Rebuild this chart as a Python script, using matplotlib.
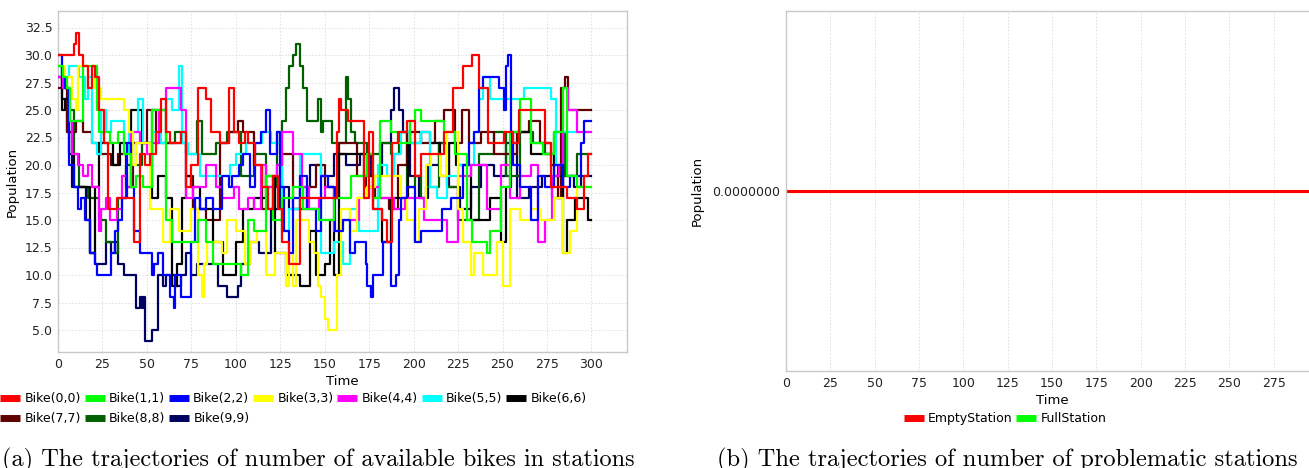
import matplotlib
matplotlib.use('Agg')
import matplotlib.pyplot as plt
from matplotlib.lines import Line2D

# step trajectories: (time, bikes) at each jump
bike_00 = [(0, 30), (9, 31), (10, 32), (12, 30), (14, 29), (17, 27), (19, 29), (21, 28), (23, 25), (26, 22),
           (28, 16), (31, 16), (33, 17), (40, 17), (43, 13), (46, 21), (49, 20), (52, 21), (55, 23), (58, 26),
           (61, 23), (63, 22), (69, 23), (72, 18), (75, 20), (79, 27), (83, 26), (86, 23), (91, 22), (96, 27),
           (99, 23), (102, 22), (105, 23), (107, 22), (111, 20), (115, 18), (118, 16), (121, 19), (124, 16),
           (126, 13), (130, 11), (136, 17), (144, 17), (150, 17), (154, 17), (157, 23), (158, 26), (159, 25),
           (163, 24), (172, 17), (175, 23), (177, 16), (182, 15), (185, 13), (188, 22), (191, 23), (196, 24),
           (201, 19), (204, 21), (212, 21), (217, 23), (222, 27), (228, 29), (233, 30), (237, 27), (242, 22),
           (247, 22), (251, 23), (256, 22), (259, 25), (274, 22), (277, 18), (286, 17), (292, 16), (296, 19),
           (298, 21)]
bike_11 = [(0, 29), (3, 28), (5, 27), (7, 24), (14, 29), (22, 25), (23, 23), (29, 22), (34, 23), (37, 21),
           (41, 18), (44, 19), (48, 18), (53, 25), (61, 15), (64, 13), (79, 15), (83, 13), (87, 11), (103, 10),
           (107, 15), (110, 14), (117, 19), (121, 15), (126, 17), (132, 18), (138, 16), (144, 16), (147, 15),
           (155, 17), (165, 19), (174, 21), (177, 17), (181, 24), (187, 23), (191, 22), (198, 24), (201, 25),
           (204, 24), (217, 23), (223, 21), (230, 15), (233, 13), (241, 12), (243, 14), (249, 18), (254, 23),
           (260, 26), (266, 22), (273, 21), (279, 23), (284, 27), (286, 19), (292, 18)]
bike_22 = [(0, 30), (2, 28), (4, 27), (6, 20), (9, 18), (11, 16), (13, 17), (15, 15), (18, 12), (21, 11),
           (22, 10), (30, 12), (32, 14), (34, 15), (36, 17), (39, 22), (41, 18), (43, 14), (46, 12), (53, 10),
           (54, 11), (56, 12), (59, 10), (63, 8), (65, 7), (66, 10), (69, 8), (75, 13), (77, 17), (80, 16),
           (83, 17), (87, 16), (92, 19), (96, 18), (98, 19), (102, 20), (104, 21), (108, 18), (111, 22),
           (114, 23), (117, 25), (119, 21), (123, 23), (125, 18), (127, 14), (130, 12), (132, 17), (136, 19),
           (140, 16), (145, 14), (148, 19), (152, 18), (156, 14), (160, 15), (164, 12), (167, 13), (173, 11),
           (174, 9), (176, 8), (177, 10), (183, 13), (187, 9), (190, 10), (192, 15), (193, 17), (196, 18),
           (201, 13), (204, 14), (216, 16), (221, 17), (228, 20), (231, 22), (234, 23), (237, 27), (239, 28),
           (248, 27), (251, 25), (252, 29), (253, 30), (255, 23), (256, 20), (260, 18), (266, 15), (270, 19),
           (274, 18), (279, 20), (284, 18), (288, 19), (294, 22), (296, 24)]
bike_33 = [(0, 29), (4, 28), (8, 26), (10, 25), (11, 29), (21, 27), (24, 26), (37, 25), (40, 23), (42, 20),
           (44, 22), (52, 16), (59, 13), (63, 16), (68, 14), (75, 16), (79, 10), (81, 8), (82, 11), (84, 13),
           (92, 12), (95, 15), (100, 14), (105, 11), (108, 13), (112, 14), (117, 10), (122, 12), (128, 9),
           (130, 12), (132, 9), (134, 15), (141, 13), (144, 12), (146, 9), (148, 8), (150, 6), (152, 5),
           (157, 10), (159, 16), (164, 14), (168, 17), (174, 18), (178, 19), (193, 17), (196, 15), (200, 13),
           (203, 16), (207, 20), (210, 21), (215, 19), (219, 23), (225, 16), (228, 13), (232, 10), (234, 12),
           (239, 10), (247, 13), (250, 9), (254, 16), (260, 15), (266, 16), (271, 15), (279, 17), (284, 12),
           (288, 14), (292, 18)]
bike_44 = [(0, 28), (3, 27), (6, 24), (8, 21), (11, 20), (14, 19), (17, 20), (19, 18), (23, 14), (24, 16),
           (27, 17), (29, 15), (33, 16), (36, 19), (39, 18), (41, 23), (46, 22), (50, 21), (53, 22), (57, 25),
           (61, 27), (69, 25), (72, 17), (76, 18), (83, 20), (89, 18), (92, 17), (99, 18), (102, 16), (107, 17),
           (110, 16), (114, 20), (117, 18), (121, 19), (123, 20), (126, 23), (132, 21), (137, 18), (141, 16),
           (147, 17), (150, 18), (155, 14), (159, 15), (169, 17), (175, 18), (181, 17), (189, 16), (195, 17),
           (206, 15), (219, 13), (225, 19), (232, 20), (241, 16), (249, 20), (254, 17), (260, 19), (266, 20),
           (270, 13), (274, 15), (278, 19), (282, 20), (284, 27), (287, 25), (292, 23)]
bike_55 = [(0, 29), (2, 28), (6, 29), (12, 28), (15, 26), (17, 28), (19, 22), (22, 21), (24, 25), (27, 23),
           (30, 24), (37, 21), (40, 23), (45, 26), (48, 22), (53, 23), (58, 22), (61, 26), (64, 25), (68, 29),
           (70, 22), (73, 21), (80, 19), (91, 19), (97, 20), (100, 21), (106, 22), (115, 23), (120, 22),
           (126, 14), (130, 16), (136, 21), (145, 21), (148, 12), (155, 13), (160, 11), (164, 16), (169, 14),
           (180, 20), (185, 19), (189, 21), (193, 23), (198, 22), (204, 23), (209, 18), (213, 17), (219, 19),
           (225, 20), (234, 23), (237, 26), (239, 28), (243, 26), (262, 27), (277, 26), (280, 20), (284, 23)]
bike_66 = [(0, 28), (2, 25), (4, 26), (6, 21), (9, 18), (18, 12), (21, 18), (23, 22), (31, 20), (35, 22),
           (41, 25), (47, 22), (53, 17), (56, 19), (61, 17), (64, 9), (67, 11), (70, 17), (72, 19), (75, 18),
           (80, 16), (87, 13), (93, 10), (100, 13), (104, 16), (110, 17), (117, 19), (122, 12), (128, 10),
           (136, 9), (142, 14), (145, 10), (150, 11), (153, 15), (155, 10), (158, 21), (172, 19), (177, 16),
           (182, 13), (187, 17), (197, 22), (204, 23), (209, 22), (215, 19), (220, 22), (224, 20), (232, 15),
           (243, 17), (249, 13), (252, 18), (255, 23), (266, 21), (279, 19), (284, 12), (286, 15), (291, 17),
           (298, 15)]
bike_77 = [(0, 27), (5, 23), (10, 24), (14, 23), (19, 22), (23, 21), (30, 20), (34, 21), (38, 18), (42, 22),
           (50, 25), (55, 22), (63, 22), (72, 19), (76, 16), (83, 15), (91, 22), (96, 23), (101, 24), (104, 23),
           (110, 20), (115, 16), (121, 18), (126, 21), (132, 16), (140, 18), (145, 20), (150, 18), (155, 17),
           (158, 22), (168, 19), (173, 18), (178, 17), (186, 16), (191, 20), (196, 23), (204, 22), (212, 24),
           (217, 25), (223, 22), (227, 25), (231, 22), (238, 23), (245, 21), (258, 23), (265, 24), (271, 22),
           (277, 20), (281, 17), (283, 27), (285, 28), (287, 25)]
bike_88 = [(0, 29), (2, 27), (6, 25), (9, 21), (12, 18), (17, 17), (23, 15), (27, 13), (32, 12), (34, 17),
           (38, 20), (47, 22), (53, 25), (61, 22), (66, 23), (72, 21), (78, 24), (81, 21), (89, 22), (95, 23),
           (103, 19), (110, 21), (117, 18), (123, 23), (126, 24), (128, 27), (130, 29), (132, 30), (134, 31),
           (136, 29), (138, 27), (140, 24), (146, 26), (148, 23), (149, 24), (154, 22), (162, 28), (163, 26),
           (165, 23), (167, 22), (174, 21), (181, 22), (187, 21), (192, 23), (196, 18), (201, 19), (204, 17),
           (207, 18), (214, 22), (219, 18), (225, 15), (237, 21), (245, 23), (252, 19), (260, 23), (267, 22),
           (274, 21), (279, 23), (285, 19), (292, 21)]
bike_99 = [(0, 28), (2, 26), (5, 23), (8, 18), (16, 15), (18, 12), (21, 11), (27, 13), (30, 12), (32, 13),
           (34, 11), (37, 10), (44, 7), (46, 8), (47, 7), (48, 8), (49, 4), (53, 5), (56, 10), (59, 9), (61, 10),
           (66, 9), (69, 10), (72, 12), (75, 10), (78, 11), (90, 9), (95, 8), (101, 9), (103, 11), (108, 13),
           (113, 12), (120, 16), (125, 18), (130, 16), (136, 18), (142, 20), (148, 19), (155, 21), (162, 20),
           (170, 21), (176, 19), (182, 22), (187, 25), (189, 27), (192, 25), (194, 23), (198, 19), (203, 17),
           (208, 20), (214, 22), (220, 18), (226, 16), (232, 18), (238, 20), (245, 19), (252, 22), (258, 17),
           (265, 18), (272, 19), (278, 17), (284, 19), (290, 18), (294, 19)]

bike_series = [bike_00, bike_11, bike_22, bike_33, bike_44, bike_55, bike_66, bike_77, bike_88, bike_99]
bike_labels = ["Bike(0,0)", "Bike(1,1)", "Bike(2,2)", "Bike(3,3)", "Bike(4,4)",
               "Bike(5,5)", "Bike(6,6)", "Bike(7,7)", "Bike(8,8)", "Bike(9,9)"]
bike_colors = ["#ff0000", "#00ff00", "#0000ff", "#ffff00", "#ff00ff",
               "#00ffff", "#000000", "#600000", "#006000", "#000060"]

# problematic stations: both stay at zero
station_time = [0, 300]
empty_station = [0, 0]
full_station = [0, 0]
station_labels = ["EmptyStation", "FullStation"]
station_colors = ["#ff0000", "#00ff00"]

t_end = 300

W, H = 1309, 468
fig = plt.figure(figsize=(W / 100, H / 100), dpi=100)


def box(l, t, r, b):
    return [l / W, 1 - b / H, (r - l) / W, (b - t) / H]


def style(ax):
    for s in ax.spines.values():
        s.set_color("#c8c8c8")
        s.set_linewidth(1.0)
    ax.grid(True, color="#dddddd", linestyle=(0, (2, 2)), linewidth=0.6)
    ax.set_axisbelow(True)
    ax.tick_params(length=0, labelsize=9, pad=4, colors="#222222")


# (a) bikes
ax1 = fig.add_axes(box(58, 11, 627, 352))
for i, (pts, col) in enumerate(zip(bike_series, bike_colors)):
    t = [p[0] for p in pts] + [t_end]
    y = [p[1] for p in pts] + [pts[-1][1]]
    ax1.step(t, y, where="post", color=col, linewidth=1.6, zorder=20 - i)
ax1.set_xlim(0, 320)
ax1.set_ylim(3.0, 34.0)
ax1.set_xticks(range(0, 301, 25))
ax1.set_yticks([5 + 2.5 * k for k in range(12)])
ax1.set_yticklabels(["%.1f" % (5 + 2.5 * k) for k in range(12)])
style(ax1)
ax1.set_xlabel("Time", fontsize=9.5, labelpad=3)
ax1.set_ylabel("Population", fontsize=9.5, labelpad=4)

h1 = [Line2D([], [], color=c, linewidth=5, solid_capstyle="butt") for c in bike_colors]
leg_kw = dict(frameon=False, fontsize=9, handlelength=1.6, handletextpad=0.35,
              columnspacing=0.3, borderpad=0, borderaxespad=0, loc="upper left")
fig.legend(h1[:7], bike_labels[:7], ncol=7, bbox_to_anchor=(0.0, 1 - 392 / H), **leg_kw)
fig.legend(h1[7:], bike_labels[7:], ncol=3, bbox_to_anchor=(0.0, 1 - 412 / H), **leg_kw)

# (b) problematic stations
ax2 = fig.add_axes(box(786, 11, 1318, 371))
ax2.plot(station_time, full_station, color=station_colors[1], linewidth=2.2)
ax2.plot(station_time, empty_station, color=station_colors[0], linewidth=2.2)
ax2.set_xlim(0, 300)
ax2.set_ylim(-1, 1)
ax2.set_xticks(range(0, 276, 25))
ax2.set_yticks([0])
ax2.set_yticklabels(["0.0000000"])
style(ax2)
ax2.set_xlabel("Time", fontsize=9.5, labelpad=3)
ax2.set_ylabel("Population", fontsize=9.5, labelpad=6)

h2 = [Line2D([], [], color=c, linewidth=5, solid_capstyle="butt") for c in station_colors]
fig.legend(h2, station_labels, ncol=2, frameon=False, fontsize=9, handlelength=1.6,
           handletextpad=0.35, columnspacing=0.3, borderpad=0, borderaxespad=0,
           loc="upper center", bbox_to_anchor=(1005 / W, 1 - 412 / H))

# captions (cut at the bottom edge, as in the source)
fig.text(318 / W, 1 - 448 / H, "(a) The trajectories of number of available bikes in stations",
         ha="center", va="top", fontsize=17.5, family="cmr10")
fig.text(1007 / W, 1 - 448 / H, "(b) The trajectories of number of problematic stations",
         ha="center", va="top", fontsize=17.6, family="cmr10")

fig.savefig("out.png", dpi=100)
